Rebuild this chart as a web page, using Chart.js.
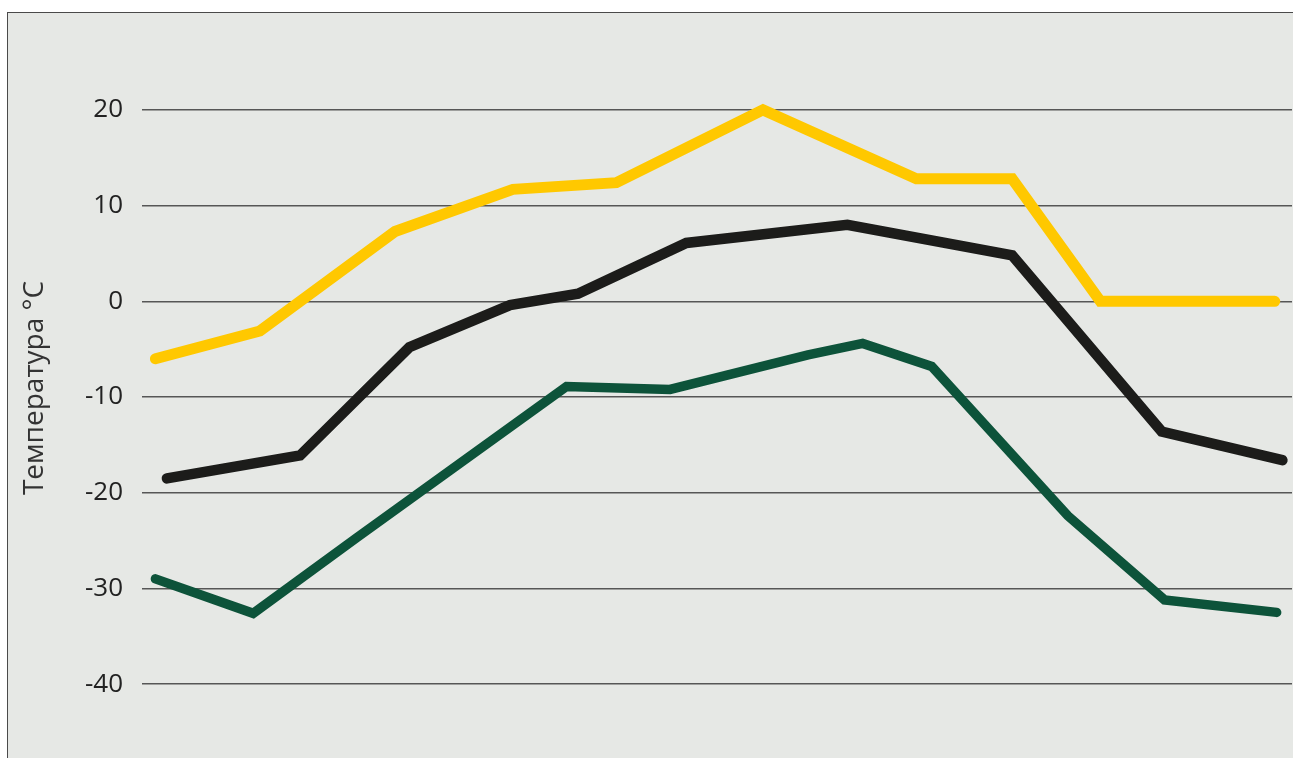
<!DOCTYPE html>
<html>
<head>
<meta charset="utf-8">
<script src="https://cdn.jsdelivr.net/npm/chart.js@4/dist/chart.umd.min.js"></script>
<style>
  html, body { margin: 0; padding: 0; background: #ffffff; }
  #frame {
    position: absolute; left: 7px; top: 12px; right: 0; bottom: 0;
    background: #e6e8e5;
    border-left: 1.5px solid #4a4a4a;
    border-top: 1.5px solid #4a4a4a;
  }
  #wrap { position: absolute; left: 0; top: 0; width: 1293px; height: 758px; }
</style>
</head>
<body>
<div id="frame"></div>
<div id="wrap"><canvas id="tempChart"></canvas></div>
<script>
// x positions are in months from the start of the year (0..12)
const yellowX = [0.14, 1.23, 2.64, 3.87, 4.95, 6.48, 8.08, 9.08, 10.0, 11.82];
const yellowY = [-6.0, -3.1, 7.3, 11.7, 12.4, 20.0, 12.8, 12.8, 0.0, 0.0];

const blackX = [0.26, 1.65, 2.79, 3.84, 4.55, 5.68, 7.36, 9.08, 10.64, 11.9];
const blackY = [-18.5, -16.1, -4.8, -0.4, 0.8, 6.1, 8.0, 4.8, -13.6, -16.6];

const greenX = [0.14, 1.16, 2.24, 4.43, 5.51, 6.95, 7.52, 8.24, 9.66, 10.67, 11.84];
const greenY = [-29.0, -32.6, -24.7, -8.9, -9.2, -5.6, -4.4, -6.8, -22.4, -31.2, -32.5];

const yTicks = [20, 10, 0, -10, -20, -30, -40];

const toPoints = (xs, ys) => xs.map((x, i) => ({ x: x, y: ys[i] }));

function lineSet(xs, ys, color, width) {
    return {
        data: toPoints(xs, ys),
        borderColor: color,
        borderWidth: width,
        borderCapStyle: 'round',
        borderJoinStyle: 'miter',
        pointRadius: 0,
        tension: 0,
        fill: false
    };
}

const ctx = document.getElementById('tempChart').getContext('2d');
new Chart(ctx, {
    type: 'line',
    data: {
        datasets: [
            lineSet(greenX, greenY, '#0d533a', 9.5),
            lineSet(blackX, blackY, '#1c1c1a', 10.5),
            lineSet(yellowX, yellowY, '#ffc800', 11)
        ]
    },
    options: {
        responsive: true,
        maintainAspectRatio: false,
        animation: false,
        layout: { padding: { top: 52.5, bottom: 0, right: 1, left: 0 } },
        plugins: { legend: { display: false }, tooltip: { enabled: false } },
        scales: {
            x: {
                type: 'linear',
                min: 0,
                max: 12,
                display: false
            },
            y: {
                min: -44.1,
                max: 26,
                afterBuildTicks: axis => { axis.ticks = yTicks.map(v => ({ value: v })); },
                afterFit: axis => { axis.width = 142; },
                border: { display: false },
                grid: { color: '#565656', lineWidth: 1.5, drawTicks: false },
                ticks: {
                    padding: 19,
                    color: '#222222',
                    font: { family: 'Open Sans', size: 26 }
                },
                title: {
                    display: true,
                    text: 'Температура °C',
                    color: '#333333',
                    font: { family: 'Open Sans', size: 28 },
                    padding: { top: 18, bottom: 0 }
                }
            }
        }
    }
});
</script>
</body>
</html>
